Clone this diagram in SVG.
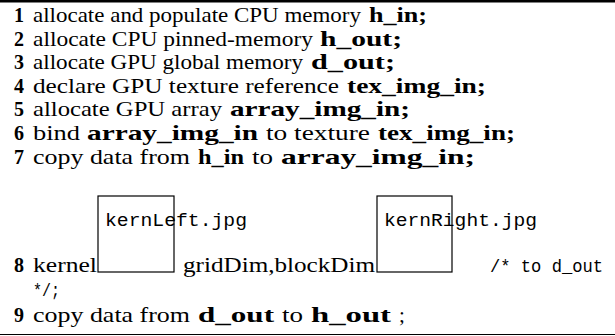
<svg xmlns="http://www.w3.org/2000/svg" width="615" height="336" viewBox="0 0 615 336">
<style>
.r{font-family:"Liberation Serif","Times New Roman",serif;font-size:21px;fill:#000}
.b{font-family:"Liberation Serif","Times New Roman",serif;font-size:21px;font-weight:bold;fill:#000}
.n{font-family:"Liberation Serif","Times New Roman",serif;font-size:20px;font-weight:bold;fill:#000}
.t{font-family:"Liberation Mono","Courier New",monospace;font-size:19px;fill:#000}
.box{fill:none;stroke:#000;stroke-width:1.2}
</style>
<rect x="0" y="0" width="615" height="336" fill="#fff"/>
<line x1="0" y1="1.2" x2="615" y2="1.2" stroke="#000" stroke-width="2.4"/>
<line x1="0" y1="334.5" x2="615" y2="334.5" stroke="#000" stroke-width="1"/>

<g id="line1">
<text class="n" x="14" y="22">1</text>
<text class="r" x="33" y="22" textLength="328" lengthAdjust="spacingAndGlyphs">allocate and populate CPU memory</text>
<text class="b" x="369" y="22" textLength="58" lengthAdjust="spacingAndGlyphs">h_in;</text>
</g>
<g id="line2">
<text class="n" x="14" y="45.6">2</text>
<text class="r" x="33" y="45.6" textLength="280" lengthAdjust="spacingAndGlyphs">allocate CPU pinned-memory</text>
<text class="b" x="320" y="45.6" textLength="82" lengthAdjust="spacingAndGlyphs">h_out;</text>
</g>
<g id="line3">
<text class="n" x="14" y="69.2">3</text>
<text class="r" x="33" y="69.2" textLength="270" lengthAdjust="spacingAndGlyphs">allocate GPU global memory</text>
<text class="b" x="311" y="69.2" textLength="84" lengthAdjust="spacingAndGlyphs">d_out;</text>
</g>
<g id="line4">
<text class="n" x="14" y="92.8">4</text>
<text class="r" x="33" y="92.8" textLength="306" lengthAdjust="spacingAndGlyphs">declare GPU texture reference</text>
<text class="b" x="347" y="92.8" textLength="139" lengthAdjust="spacingAndGlyphs">tex_img_in;</text>
</g>
<g id="line5">
<text class="n" x="14" y="116.4">5</text>
<text class="r" x="33" y="116.4" textLength="189" lengthAdjust="spacingAndGlyphs">allocate GPU array</text>
<text class="b" x="230" y="116.4" textLength="180" lengthAdjust="spacingAndGlyphs">array_img_in;</text>
</g>
<g id="line6">
<text class="n" x="14" y="140">6</text>
<text class="r" x="33" y="140" textLength="47" lengthAdjust="spacingAndGlyphs">bind</text>
<text class="b" x="87" y="140" textLength="171" lengthAdjust="spacingAndGlyphs">array_img_in</text>
<text class="r" x="266" y="140" textLength="104" lengthAdjust="spacingAndGlyphs">to texture</text>
<text class="b" x="378" y="140" textLength="137" lengthAdjust="spacingAndGlyphs">tex_img_in;</text>
</g>
<g id="line7">
<text class="n" x="14" y="163.6">7</text>
<text class="r" x="33" y="163.6" textLength="157" lengthAdjust="spacingAndGlyphs">copy data from</text>
<text class="b" x="198" y="163.6" textLength="46" lengthAdjust="spacingAndGlyphs">h_in</text>
<text class="r" x="252" y="163.6" textLength="21" lengthAdjust="spacingAndGlyphs">to</text>
<text class="b" x="281" y="163.6" textLength="194" lengthAdjust="spacingAndGlyphs">array_img_in;</text>
</g>
<g id="line8">
<text class="n" x="14" y="272">8</text>
<text class="r" x="33" y="272" textLength="64" lengthAdjust="spacingAndGlyphs">kernel</text>
<rect class="box" x="98" y="196" width="76" height="76"/>
<text class="t" x="105" y="226" textLength="142" lengthAdjust="spacingAndGlyphs">kernLeft.jpg</text>
<text class="r" x="183" y="272" textLength="192" lengthAdjust="spacingAndGlyphs">gridDim,blockDim</text>
<rect class="box" x="377" y="196" width="75" height="76"/>
<text class="t" x="384" y="226" textLength="153" lengthAdjust="spacingAndGlyphs">kernRight.jpg</text>
<text class="t" x="490" y="272" textLength="113" lengthAdjust="spacingAndGlyphs">/* to d_out</text>
<text class="t" x="33" y="296" textLength="27" lengthAdjust="spacingAndGlyphs">*/;</text>
</g>
<g id="line9">
<text class="n" x="14" y="322">9</text>
<text class="r" x="33" y="322" textLength="157" lengthAdjust="spacingAndGlyphs">copy data from</text>
<text class="b" x="198" y="322" textLength="76" lengthAdjust="spacingAndGlyphs">d_out</text>
<text class="r" x="282" y="322" textLength="21" lengthAdjust="spacingAndGlyphs">to</text>
<text class="b" x="311" y="322" textLength="80" lengthAdjust="spacingAndGlyphs">h_out</text>
<text class="r" x="399" y="322">;</text>
</g>
</svg>
